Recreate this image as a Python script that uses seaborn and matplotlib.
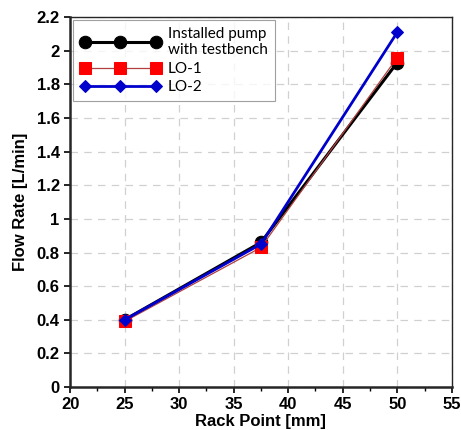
import pandas as pd
import matplotlib
matplotlib.use('Agg')
import matplotlib.pyplot as plt
import seaborn as sns

rack_point = [25, 37.5, 50]
installed = [0.40, 0.86, 1.93]
lo1 = [0.39, 0.83, 1.96]
lo2 = [0.40, 0.85, 2.11]
series_names = ['Installed pump\nwith testbench', 'LO-1', 'LO-2']

sns.set_style('ticks')
plt.rcParams['font.family'] = ['Liberation Sans', 'DejaVu Sans']
plt.rcParams['text.color'] = 'black'
plt.rcParams['axes.labelcolor'] = 'black'
plt.rcParams['xtick.color'] = 'black'
plt.rcParams['ytick.color'] = 'black'

fig = plt.figure(figsize=(4.61, 4.30), dpi=100)
ax = fig.add_axes([0.152, 0.100, 0.828, 0.860])

styles = [
    dict(color='black', marker='o', markersize=9, linewidth=2.2, zorder=3,
         markeredgecolor='black'),
    dict(color='#b04040', marker='s', markersize=8.5, linewidth=0.9, zorder=4,
         markerfacecolor='red', markeredgecolor='red'),
    dict(color='#0000cc', marker='D', markersize=6, linewidth=2.0, zorder=5,
         markeredgecolor='#0000cc'),
]
for name, vals, st in zip(series_names, [installed, lo1, lo2], styles):
    df = pd.DataFrame({'x': rack_point, 'y': vals})
    sns.lineplot(data=df, x='x', y='y', ax=ax, label=name, **st)

ax.set_xlim(20, 55)
ax.set_ylim(0, 2.2)
ax.set_xticks(range(20, 56, 5))
ax.set_yticks([i / 10 for i in range(0, 23, 2)])
ax.set_yticklabels(['0', '0.2', '0.4', '0.6', '0.8', '1', '1.2', '1.4',
                    '1.6', '1.8', '2', '2.2'])
ax.set_xticks([22.5 + 5 * i for i in range(7)], minor=True)
ax.tick_params(axis='both', which='major', labelsize=12, width=1.2, length=4)
ax.tick_params(axis='x', which='minor', length=3, width=1)
for lab in ax.get_xticklabels() + ax.get_yticklabels():
    lab.set_fontweight('bold')

ax.grid(True, which='major', linestyle=(0, (6, 5)), color='#d0d0d0', linewidth=0.9)
ax.set_axisbelow(True)

ax.set_xlabel('Rack Point [mm]', fontsize=12, fontweight='bold', labelpad=1)
ax.set_ylabel('Flow Rate [L/min]', fontsize=12, fontweight='bold', labelpad=6)

ax.spines['left'].set_linewidth(1.8)
ax.spines['bottom'].set_linewidth(1.8)
ax.spines['top'].set_linewidth(1.0)
ax.spines['right'].set_linewidth(1.0)

leg = ax.legend(loc='upper left', numpoints=3, handlelength=5.3,
                frameon=True, fancybox=False, edgecolor='#888888',
                borderaxespad=0.2, borderpad=0.45, handletextpad=0.45,
                labelspacing=0.3,
                prop={'family': ['Lato', 'DejaVu Sans'], 'size': 11})
leg.get_frame().set_linewidth(0.8)

plt.savefig('out.png', dpi=100)
